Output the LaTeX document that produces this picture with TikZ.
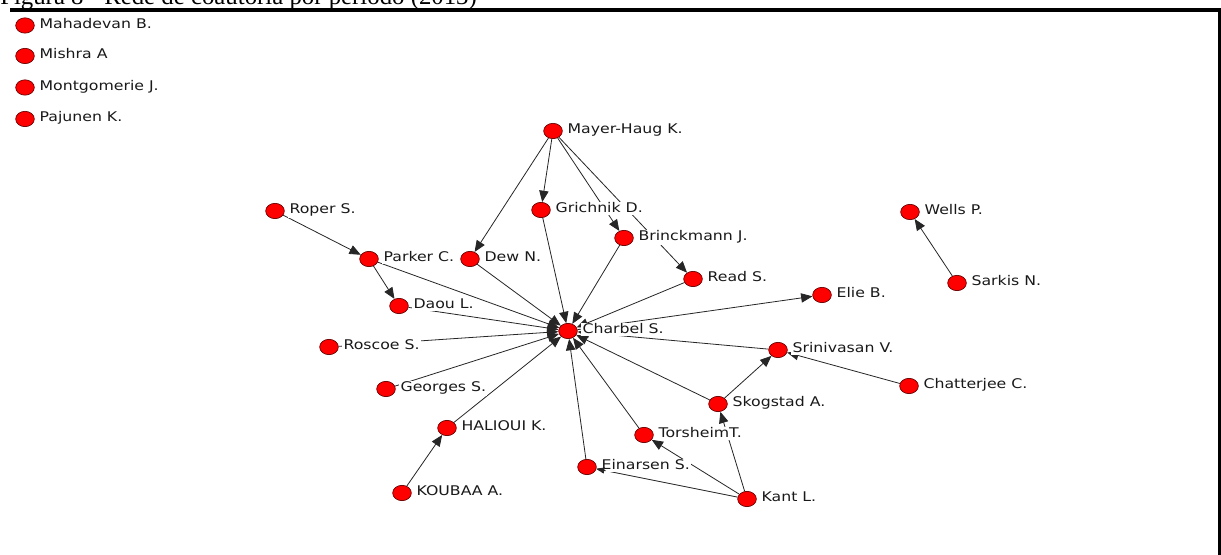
\documentclass[tikz,border=0pt]{standalone}
\usepackage{fontspec}
\newfontfamily\labfont[FakeStretch=1.18]{DejaVu Sans}
\newfontfamily\capfont{Liberation Serif}
\usetikzlibrary{arrows.meta,shapes.geometric}
\begin{document}
\begin{tikzpicture}[x=0.75pt,y=-0.75pt,
  vert/.style={ellipse, draw=red!40!black, fill=red, minimum width=14pt, minimum height=11.5pt, inner sep=0pt, line width=0.5pt},
  lab/.style={anchor=base west, fill=white, inner sep=1pt, font=\labfont\fontsize{10pt}{12pt}\selectfont, text=black!90},
  edge/.style={draw=black!85, line width=0.6pt},
  arr/.style={edge, -{Triangle[length=8.5pt,width=7pt]}},
  smallarr/.style={edge, -{Triangle[length=6pt,width=4.5pt]}}
]
\useasboundingbox (0,0) rectangle (1221,555);
\clip (0,0) rectangle (1221,555);
\fill[white] (0,0) rectangle (1221,555);

% caption (cut off at the top) and frame rules
\node[anchor=base west, inner sep=0pt, font=\capfont\fontsize{18.6pt}{20pt}\selectfont] (cap) at (0,5) {Figura 8 - Rede de coautoria por período (2013)};
\fill (10,8.5) rectangle (1221,12.5);
\fill (1217.5,12) rectangle (1220.5,555);

% vertices
\node[vert] (mah) at (25,25.5) {};
\node[vert] (mis) at (25,56) {};
\node[vert] (mon) at (25,87.5) {};
\node[vert] (paj) at (25,119) {};
\node[vert] (may) at (553,131) {};
\node[vert] (rop) at (275,211) {};
\node[vert] (gri) at (541,210) {};
\node[vert] (wel) at (910,212) {};
\node[vert] (bri) at (624,238) {};
\node[vert] (par) at (369,259) {};
\node[vert] (dew) at (470,259) {};
\node[vert] (rea) at (693,279) {};
\node[vert] (eli) at (822,295) {};
\node[vert] (sar) at (957,283) {};
\node[vert] (dao) at (399,306) {};
\node[vert] (cha) at (568,331) {};
\node[vert] (ros) at (329,347) {};
\node[vert] (sri) at (778,350) {};
\node[vert] (geo) at (386,389) {};
\node[vert] (cht) at (909,386) {};
\node[vert] (sko) at (718,404) {};
\node[vert] (hal) at (447,428) {};
\node[vert] (tor) at (644,435) {};
\node[vert] (ein) at (587,467) {};
\node[vert] (kou) at (402,493) {};
\node[vert] (kan) at (747,499) {};

% connectors
\draw[arr] (may) -- (gri);
\draw[arr] (may) -- (dew);
\draw[arr] (may) -- (bri);
\draw[arr] (may) -- (rea);
\draw[arr] (rop) -- (par);
\draw[arr] (par) -- (dao);
\draw[arr] (par) -- (cha);
\draw[arr] (dew) -- (cha);
\draw[arr] (gri) -- (cha);
\draw[arr] (bri) -- (cha);
\draw[arr] (rea) -- (cha);
\draw[arr] (dao) -- (cha);
\draw[arr] (ros) -- (cha);
\draw[arr] (geo) -- (cha);
\draw[arr] (hal) -- (cha);
\draw[arr] (kou) -- (hal);
\draw[arr] (ein) -- (cha);
\draw[arr] (tor) -- (cha);
\draw[arr] (sko) -- (cha);
\draw[arr] (sri) -- (cha);
\draw[arr] (cha) -- (eli);
\draw[arr] (sko) -- (sri);
\draw[arr] (cht) -- (sri);
\draw[arr] (kan) -- (sko);
\draw[arr] (kan) -- (tor);
\draw[smallarr] (kan) -- (ein);
\draw[arr] (sar) -- (wel);

% labels
\foreach \n/\t in {mah/Mahadevan B., mis/Mishra A, mon/Montgomerie J., paj/Pajunen K.,
  may/Mayer-Haug K., rop/Roper S., gri/Grichnik D., wel/Wells P., bri/Brinckmann J.,
  par/Parker C., dew/Dew N., rea/Read S., eli/Elie B., sar/Sarkis N., dao/Daou L.,
  cha/Charbel S., ros/Roscoe S., sri/Srinivasan V., geo/Georges S., cht/Chatterjee C.,
  sko/Skogstad A., hal/HALIOUI K., tor/TorsheimT., ein/Einarsen S., kou/KOUBAA A., kan/Kant L.}
  \node[lab] (l\n) at ([shift={(13,3)}]\n.center) {\t};

% the small head at Einarsen S. stays visible over its label
\begin{scope}
  \clip (ein.center) circle (19);
  \draw[smallarr] (kan) -- (ein);
\end{scope}
\end{tikzpicture}
\end{document}
